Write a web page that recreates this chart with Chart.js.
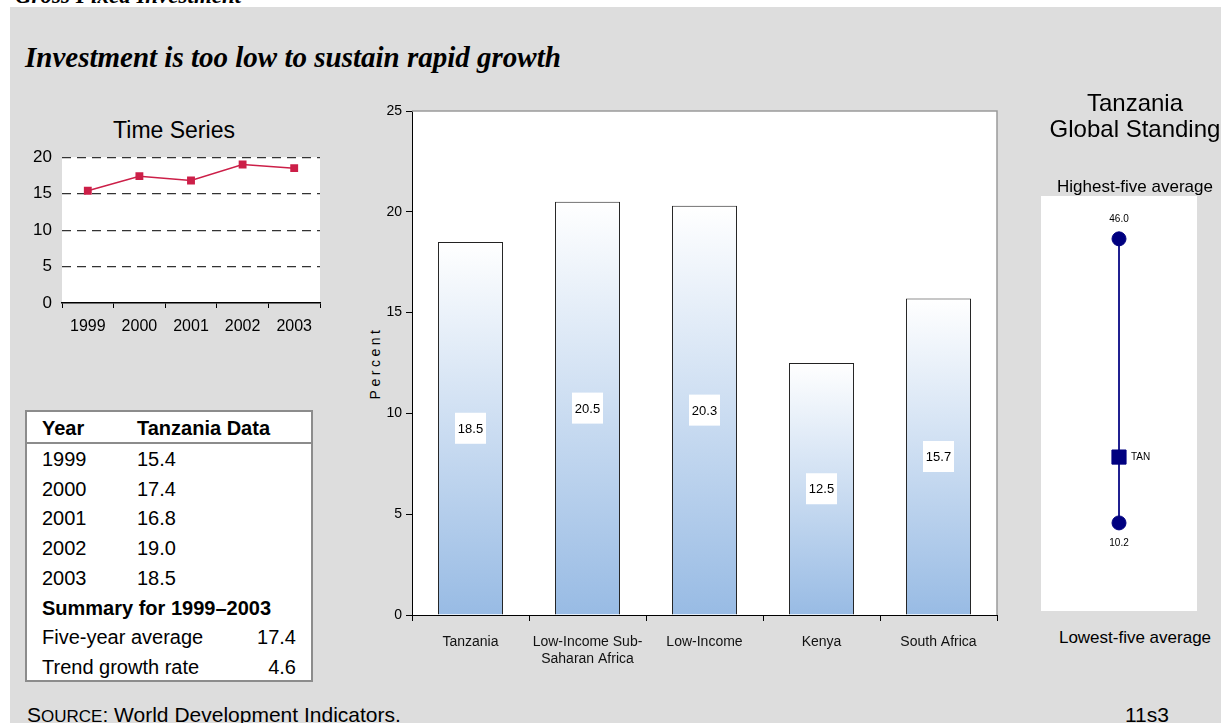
<!DOCTYPE html>
<html>
<head>
<meta charset="utf-8">
<script src="https://cdn.jsdelivr.net/npm/chart.js@4.4.0/dist/chart.umd.min.js"></script>
<style>
  body { margin: 0; width: 1221px; height: 723px; overflow: hidden; position: relative;
         background: #fff; font-family: "Liberation Sans", Arial, sans-serif; color: #000; }
  #panel { position: absolute; left: 10px; top: 7px; right: 0; bottom: 0; background: #dddddd; }
  .txt { position: absolute; white-space: nowrap; line-height: 1; }
  .ctr { text-align: center; }
  canvas { position: absolute; }
  #tbl { position: absolute; left: 25px; top: 410px; width: 284px; height: 268px;
         border: 2px solid #8c8c8c; background: #fff; font-size: 20px; }
  #tbl .row { position: absolute; left: 0; right: 0; line-height: 1; white-space: nowrap; }
  #tbl .c1 { position: absolute; left: 15px; }
  #tbl .c2 { position: absolute; left: 110px; }
  #tbl .c3 { position: absolute; right: 15px; }
  #tbl .rule { position: absolute; left: 0; right: 0; top: 30px; height: 2px; background: #8c8c8c; }
  #percent { position: absolute; left: 315px; top: 353px; width: 120px; height: 20px; font-size: 14px;
             letter-spacing: 3.5px; text-align: center; line-height: 20px; transform: rotate(-90deg); }
  #standBox { position: absolute; left: 1041px; top: 196px; width: 156px; height: 415px; background: #fff; }
</style>
</head>
<body>
<div class="txt" style="left:15px;top:-17px;font:italic bold 23px 'Liberation Serif',serif;">Gross Fixed Investment</div>
<div id="panel"></div>
<div class="txt" style="left:25px;top:41px;font:italic bold 29px 'Liberation Serif',serif;">Investment is too low to sustain rapid growth</div>

<div class="txt ctr" style="left:24px;width:300px;top:119px;font-size:23px;">Time Series</div>
<canvas id="ts" width="310" height="203" style="left:20px;top:137px;"></canvas>

<div id="tbl"></div>

<div id="percent">Percent</div>
<canvas id="bars" width="680" height="600" style="left:340px;top:95px;"></canvas>

<div class="txt ctr" style="left:985px;width:300px;top:91px;font-size:24px;">Tanzania</div>
<div class="txt ctr" style="left:985px;width:300px;top:117px;font-size:24px;">Global Standing</div>
<div class="txt ctr" style="left:1035px;width:200px;top:178px;font-size:17px;">Highest-five average</div>
<div id="standBox"></div>
<canvas id="stand" width="156" height="415" style="left:1041px;top:196px;"></canvas>
<div class="txt ctr" style="left:1035px;width:200px;top:629px;font-size:17px;">Lowest-five average</div>

<div class="txt" style="left:27px;top:704px;font-size:21px;">S<span style="font-size:17px">OURCE</span>: World Development Indicators.</div>
<div class="txt" style="left:1125px;top:704px;font-size:21px;">11s3</div>

<script>
"use strict";

var tsYears = ["1999", "2000", "2001", "2002", "2003"];
var tsValues = [15.4, 17.4, 16.8, 19.0, 18.5];
var tsTicks = [0, 5, 10, 15, 20];

var summaryLabels = ["Five-year average", "Trend growth rate"];
var summaryValues = [17.4, 4.6];

var barLabels = ["Tanzania", ["Low-Income Sub-", "Saharan Africa"], "Low-Income", "Kenya", "South Africa"];
var barValues = [18.5, 20.5, 20.3, 12.5, 15.7];
var barTicks = [0, 5, 10, 15, 20, 25];

var standNames = ["Highest-five average", "TAN", "Lowest-five average"];
var standValues = [46.0, 18.5, 10.2];

var SANS = "'Liberation Sans', Arial, sans-serif";
Chart.defaults.font.family = SANS;
Chart.defaults.color = "#000";

/* white plot background */
var whiteArea = {
    id: "whiteArea",
    beforeDraw: function (chart) {
        var a = chart.chartArea;
        chart.ctx.save();
        chart.ctx.fillStyle = "#fff";
        chart.ctx.fillRect(a.left, a.top, a.right - a.left, a.bottom - a.top);
        chart.ctx.restore();
    },
};

/* Time series (line) */
new Chart(document.getElementById("ts"), {
    type: "line",
    data: {
        labels: tsYears,
        datasets: [
            {
                data: tsValues,
                borderColor: "#cc1f48",
                backgroundColor: "#cc1f48",
                borderWidth: 1.5,
                pointStyle: "rect",
                pointRadius: 4.5,
                tension: 0,
            },
        ],
    },
    options: {
        responsive: false,
        animation: false,
        // top label overflow (half label + tick padding) sets the plot top
        layout: { autoPadding: false, padding: { top: 0, right: 10, left: 0, bottom: 0 } },
        plugins: { legend: { display: false }, tooltip: { enabled: false } },
        scales: {
            x: {
                offset: true,
                grid: { offset: true, drawOnChartArea: false, tickLength: 5, color: "#000" },
                border: { color: "#000", width: 1.5 },
                ticks: { font: { size: 16 }, padding: 9, maxRotation: 0, autoSkip: false },
                afterFit: function (s) { s.height = 37; },
            },
            y: {
                min: tsTicks[0],
                max: tsTicks[tsTicks.length - 1],
                afterBuildTicks: function (s) { s.ticks = tsTicks.map(function (v) { return { value: v }; }); },
                ticks: { font: { size: 17 }, padding: 10 },
                grid: {
                    drawTicks: false,
                    lineWidth: 1.2,
                    color: function (c) { return c.tick && c.tick.value === 0 ? "rgba(0,0,0,0)" : "#333"; },
                },
                border: { display: false, dash: [9, 6] },
                afterFit: function (s) { s.width = 42; },
            },
        },
    },
    plugins: [whiteArea],
});

/* Tanzania data table */
var tbl = document.getElementById("tbl");
var rowTop = 32, rowH = 29.7;
function addRow(i, cells, bold) {
    var r = document.createElement("div");
    r.className = "row";
    r.style.top = (i < 0 ? 6 : rowTop + i * rowH + 5) + "px";
    if (bold) r.style.fontWeight = "bold";
    cells.forEach(function (c) {
        var s = document.createElement("span");
        s.className = c[0];
        s.textContent = c[1];
        r.appendChild(s);
    });
    tbl.appendChild(r);
}
addRow(-1, [["c1", "Year"], ["c2", "Tanzania Data"]], true);
var rule = document.createElement("div");
rule.className = "rule";
tbl.appendChild(rule);
tsYears.forEach(function (y, i) {
    addRow(i, [["c1", y], ["c2", tsValues[i].toFixed(1)]], false);
});
addRow(tsYears.length, [["c1", "Summary for " + tsYears[0] + "\u2013" + tsYears[tsYears.length - 1]]], true);
summaryLabels.forEach(function (l, i) {
    addRow(tsYears.length + 1 + i, [["c1", l], ["c3", summaryValues[i].toFixed(1)]], false);
});

/* Comparison bars */
function barFill(ctx) {
    var chart = ctx.chart;
    if (!chart.chartArea || ctx.raw === undefined) return "#c8d9ef";
    var y = chart.scales.y;
    var top = y.getPixelForValue(ctx.raw);
    var base = y.getPixelForValue(0);
    var g = chart.ctx.createLinearGradient(0, top, 0, base);
    g.addColorStop(0, "#ffffff");
    g.addColorStop(1, "#98bbe4");
    return g;
}

var plotFrame = {
    id: "plotFrame",
    afterDraw: function (chart) {
        var a = chart.chartArea, c = chart.ctx;
        c.save();
        c.strokeStyle = "#9a9a9a";
        c.lineWidth = 1.5;
        c.beginPath();
        c.moveTo(a.left, a.top);
        c.lineTo(a.right, a.top);
        c.lineTo(a.right, a.bottom);
        c.stroke();
        c.restore();
    },
};

var valueBoxes = {
    id: "valueBoxes",
    afterDatasetsDraw: function (chart) {
        var c = chart.ctx;
        var meta = chart.getDatasetMeta(0);
        c.save();
        c.font = "13px " + SANS;
        c.textAlign = "center";
        c.textBaseline = "middle";
        meta.data.forEach(function (bar, i) {
            var cy = (bar.y + bar.base) / 2;
            c.fillStyle = "#fff";
            c.fillRect(bar.x - 15.5, cy - 15.5, 31, 31);
            c.fillStyle = "#000";
            c.fillText(barValues[i].toFixed(1), bar.x, cy + 1);
        });
        c.restore();
    },
};

new Chart(document.getElementById("bars"), {
    type: "bar",
    data: {
        labels: barLabels,
        datasets: [
            {
                data: barValues,
                backgroundColor: barFill,
                borderColor: "#222",
                borderWidth: 1,
                barPercentage: 0.556,
                categoryPercentage: 1,
            },
        ],
    },
    options: {
        responsive: false,
        animation: false,
        layout: { padding: { top: 16, right: 23, left: 0, bottom: 0 } },
        plugins: { legend: { display: false }, tooltip: { enabled: false } },
        scales: {
            x: {
                grid: { offset: true, drawOnChartArea: false, tickLength: 6, color: "#000" },
                border: { color: "#000", width: 1 },
                ticks: { font: { size: 14 }, padding: 13, maxRotation: 0, autoSkip: false, color: "#111" },
                afterFit: function (s) { s.height = 80; },
            },
            y: {
                min: barTicks[0],
                max: barTicks[barTicks.length - 1],
                afterBuildTicks: function (s) { s.ticks = barTicks.map(function (v) { return { value: v }; }); },
                grid: { drawOnChartArea: false, tickLength: 6, color: "#000" },
                border: { color: "#000", width: 1 },
                ticks: { font: { size: 14 }, padding: 4 },
                afterFit: function (s) { s.width = 72; },
            },
        },
    },
    plugins: [whiteArea, plotFrame, valueBoxes],
});

/* Global standing range */
var standLabels = {
    id: "standLabels",
    afterDatasetsDraw: function (chart) {
        var c = chart.ctx;
        var ends = chart.getDatasetMeta(0).data;
        var tan = chart.getDatasetMeta(1).data[0];
        c.save();
        c.font = "10px " + SANS;
        c.fillStyle = "#000";
        c.textBaseline = "middle";
        c.textAlign = "center";
        c.fillText(standValues[0].toFixed(1), ends[0].x, ends[0].y - 20);
        c.fillText(standValues[2].toFixed(1), ends[1].x, ends[1].y + 20);
        c.textAlign = "left";
        c.fillText(standNames[1], tan.x + 12, tan.y);
        c.restore();
    },
};

new Chart(document.getElementById("stand"), {
    type: "scatter",
    data: {
        datasets: [
            {
                data: [{ x: 0, y: standValues[0] }, { x: 0, y: standValues[2] }],
                showLine: true,
                borderColor: "#000080",
                backgroundColor: "#000080",
                borderWidth: 1,
                pointStyle: "circle",
                pointRadius: 7,
            },
            {
                data: [{ x: 0, y: standValues[1] }],
                borderColor: "#000080",
                backgroundColor: "#000080",
                pointStyle: "rect",
                pointRadius: 10,
            },
        ],
    },
    options: {
        responsive: false,
        animation: false,
        layout: { autoPadding: false, padding: 0 },
        plugins: { legend: { display: false }, tooltip: { enabled: false } },
        scales: {
            x: { display: false, min: -1, max: 1 },
            y: { display: false, min: -0.9, max: 51.4 },
        },
    },
    plugins: [standLabels],
});
</script>
</body>
</html>
